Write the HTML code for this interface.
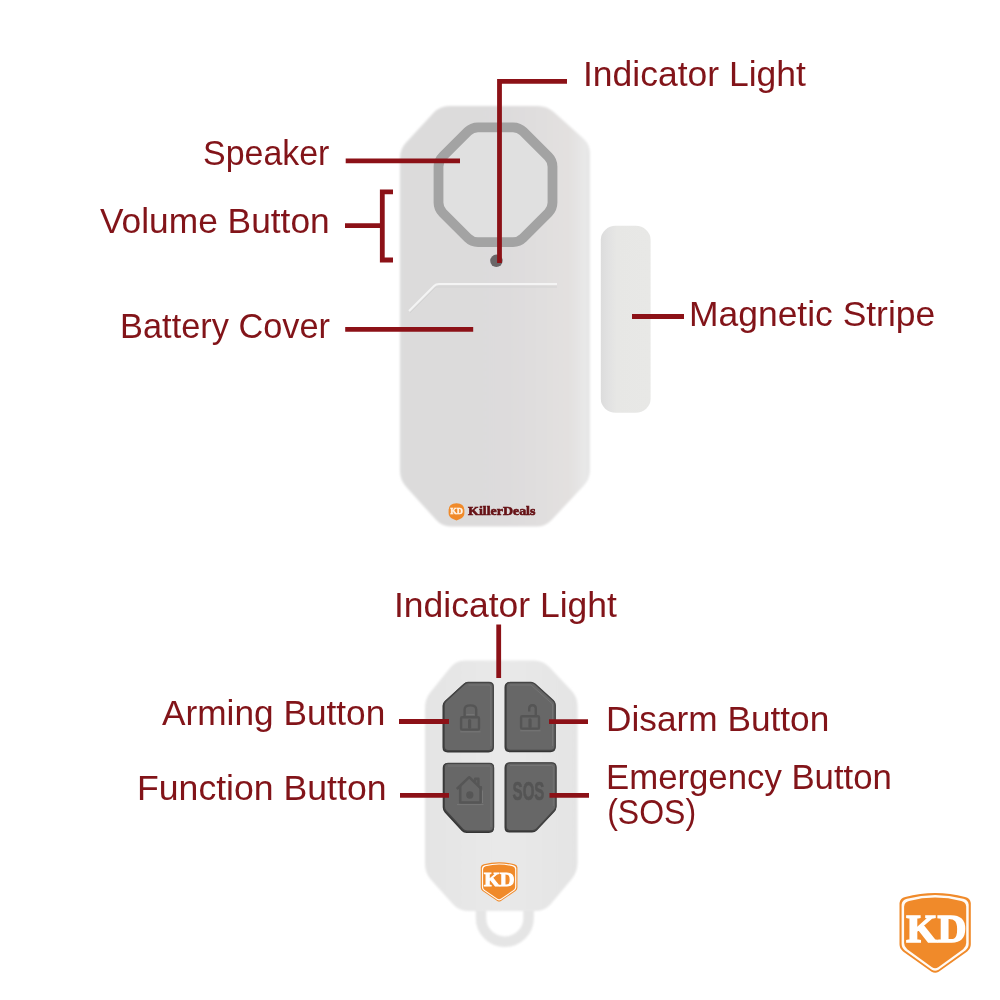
<!DOCTYPE html>
<html><head><meta charset="utf-8"><title>Alarm diagram</title>
<style>
html,body{margin:0;padding:0;background:#ffffff;width:1000px;height:1000px;overflow:hidden}
svg{display:block;will-change:transform}
.lbl{font-family:"Liberation Sans",sans-serif;font-size:35px;fill:#821419}
</style></head><body>
<svg width="1000" height="1000" viewBox="0 0 1000 1000">
<defs>
  <filter id="soft" x="-5%" y="-5%" width="110%" height="110%"><feGaussianBlur stdDeviation="1.1"/></filter>
  <filter id="soft2" x="-10%" y="-10%" width="120%" height="120%"><feGaussianBlur stdDeviation="0.6"/></filter>
  <filter id="soft3" x="-40%" y="-40%" width="180%" height="200%"><feGaussianBlur stdDeviation="1.1"/></filter>
  <linearGradient id="bodyG" x1="0" y1="0" x2="1" y2="0">
    <stop offset="0" stop-color="#dcdcdc"/>
    <stop offset="0.1" stop-color="#dcdbdb"/>
    <stop offset="0.55" stop-color="#dddbdc"/>
    <stop offset="0.9" stop-color="#e3e1e0"/>
    <stop offset="0.97" stop-color="#e8e8e8"/>
    <stop offset="1" stop-color="#e6e6e6"/>
  </linearGradient>
  <linearGradient id="remG" x1="0" y1="0" x2="1" y2="0">
    <stop offset="0" stop-color="#e4e4e4"/>
    <stop offset="0.5" stop-color="#e9e9e9"/>
    <stop offset="1" stop-color="#e4e4e4"/>
  </linearGradient>
  <linearGradient id="magG" x1="0" y1="0" x2="1" y2="0">
    <stop offset="0" stop-color="#dcdcdc"/>
    <stop offset="0.16" stop-color="#e2e2e2"/>
    <stop offset="0.32" stop-color="#e7e7e5"/>
    <stop offset="1" stop-color="#e8e8e6"/>
  </linearGradient>
</defs>
<rect width="1000" height="1000" fill="#ffffff"/>

<!-- ===== Main alarm body ===== -->
<path d="M400.00,158.00 Q400.00,149.00 406.13,142.41 L433.87,112.59 Q440.00,106.00 449.00,106.00 L538.00,106.00 Q547.00,106.00 553.71,112.00 L583.29,138.50 Q590.00,144.50 590.00,153.50 L590.00,470.00 Q590.00,479.00 583.85,485.57 L551.65,519.93 Q545.50,526.50 536.50,526.50 L451.00,526.50 Q442.00,526.50 435.97,519.82 L406.03,486.68 Q400.00,480.00 400.00,471.00 Z" fill="url(#bodyG)" filter="url(#soft)"/>
<!-- speaker octagon ring -->
<path d="M467.76,131.54 Q472.00,127.30 478.00,127.30 L513.00,127.30 Q519.00,127.30 523.24,131.54 L548.26,156.56 Q552.50,160.80 552.50,166.80 L552.50,202.60 Q552.50,208.60 548.26,212.84 L523.24,237.86 Q519.00,242.10 513.00,242.10 L478.00,242.10 Q472.00,242.10 467.76,237.86 L442.74,212.84 Q438.50,208.60 438.50,202.60 L438.50,166.80 Q438.50,160.80 442.74,156.56 Z" fill="#e0e0e0" stroke="#a3a3a3" stroke-width="9.8" stroke-linejoin="round" filter="url(#soft2)"/>
<!-- LED -->
<circle cx="496.4" cy="260.8" r="6.2" fill="#6a6668" filter="url(#soft2)"/>
<!-- battery cover outline -->
<path d="M409,311 L434,286 Q436,284 439,284 L557,284" fill="none" stroke="#f4f4f4" stroke-width="2"/>
<path d="M410,313 L436,287 L557,287" fill="none" stroke="#d3d3d3" stroke-width="1"/>

<!-- KillerDeals logo on body -->
<g>
  <path d="M448.6,510.5 Q448.6,503.2 456.5,503.2 Q464.4,503.2 464.4,510.5 L464.4,513 Q464.4,517 460,519 L456.5,520.6 L453,519 Q448.6,517 448.6,513 Z" fill="#f08a2a"/>
  <text x="450.3" y="514.2" font-family="Liberation Serif" font-weight="bold" font-size="8" fill="#fff4e8" stroke="#fff4e8" stroke-width="0.4" textLength="12.6" lengthAdjust="spacingAndGlyphs">KD</text>
  <text x="468.1" y="514.6" font-family="Liberation Serif" font-weight="bold" font-size="12.5" fill="#661216" stroke="#661216" stroke-width="0.6" textLength="67.3" lengthAdjust="spacingAndGlyphs">KillerDeals</text>
</g>

<!-- magnetic stripe -->
<rect x="600.8" y="225.8" width="49.8" height="187" rx="15" ry="14" fill="url(#magG)" filter="url(#soft2)"/>

<!-- ===== Remote ===== -->
<path d="M481,909 L481,918 A23.8,23.8 0 0 0 528.6,918 L528.6,909" fill="none" stroke="#e5e5e5" stroke-width="10.5" filter="url(#soft3)"/>
<path d="M425.00,708.00 Q425.00,699.00 430.64,691.99 L450.36,667.51 Q456.00,660.50 465.00,660.50 L534.00,660.50 Q543.00,660.50 549.18,667.04 L571.32,690.46 Q577.50,697.00 577.50,706.00 L577.50,863.00 Q577.50,872.00 571.74,878.91 L550.76,904.09 Q545.00,911.00 536.00,911.00 L468.00,911.00 Q459.00,911.00 453.00,904.29 L431.00,879.71 Q425.00,873.00 425.00,864.00 Z" fill="url(#remG)" filter="url(#soft)"/>

<!-- buttons -->
<g fill="#353535" transform="translate(-0.5,0.8)">
  <path d="M468,682.5 L489,682.5 Q493.2,682.5 493.2,686.5 L493.2,746.5 Q493.2,750.6 489,750.6 L448.2,750.6 Q444.1,750.6 444.1,746.5 L444.1,705 Q444.1,702.8 446,701 L464,684.5 Q466,682.5 468,682.5 Z" stroke="#353535" stroke-width="2.2" stroke-linejoin="round"/>
  <path d="M510.2,682.5 L531,682.5 Q533,682.5 535,684 L553.2,700.5 Q555.1,702.2 555.1,705 L555.1,746.2 Q555.1,750.3 551,750.3 L510.2,750.3 Q506.1,750.3 506.1,746.2 L506.1,686.5 Q506.1,682.5 510.2,682.5 Z" stroke="#353535" stroke-width="2.2" stroke-linejoin="round"/>
  <path d="M448.4,763.3 L489.4,763.3 Q493.5,763.3 493.5,767.3 L493.5,827 Q493.5,831.1 489.4,831.1 L467,831.1 Q464.6,831.1 463,829.4 L446,811 Q444.3,809 444.3,806.5 L444.3,767.3 Q444.3,763.3 448.4,763.3 Z" stroke="#353535" stroke-width="2.2" stroke-linejoin="round"/>
  <path d="M510.2,762.9 L551.8,762.9 Q555.9,762.9 555.9,767 L555.9,806 Q555.9,808.5 554,810.5 L536.6,829 Q535,830.7 532.5,830.7 L510.2,830.7 Q506.1,830.7 506.1,826.6 L506.1,767 Q506.1,762.9 510.2,762.9 Z" stroke="#353535" stroke-width="2.2" stroke-linejoin="round"/>
</g>
<g fill="#676767" stroke="#454545" stroke-width="1.3" stroke-linejoin="round">
  <path d="M468,682.5 L489,682.5 Q493.2,682.5 493.2,686.5 L493.2,746.5 Q493.2,750.6 489,750.6 L448.2,750.6 Q444.1,750.6 444.1,746.5 L444.1,705 Q444.1,702.8 446,701 L464,684.5 Q466,682.5 468,682.5 Z"/>
  <path d="M510.2,682.5 L531,682.5 Q533,682.5 535,684 L553.2,700.5 Q555.1,702.2 555.1,705 L555.1,746.2 Q555.1,750.3 551,750.3 L510.2,750.3 Q506.1,750.3 506.1,746.2 L506.1,686.5 Q506.1,682.5 510.2,682.5 Z"/>
  <path d="M448.4,763.3 L489.4,763.3 Q493.5,763.3 493.5,767.3 L493.5,827 Q493.5,831.1 489.4,831.1 L467,831.1 Q464.6,831.1 463,829.4 L446,811 Q444.3,809 444.3,806.5 L444.3,767.3 Q444.3,763.3 448.4,763.3 Z"/>
  <path d="M510.2,762.9 L551.8,762.9 Q555.9,762.9 555.9,767 L555.9,806 Q555.9,808.5 554,810.5 L536.6,829 Q535,830.7 532.5,830.7 L510.2,830.7 Q506.1,830.7 506.1,826.6 L506.1,767 Q506.1,762.9 510.2,762.9 Z"/>
</g>

<!-- button inner highlights -->
<g fill="none" stroke="#747474" stroke-width="1">
  <path d="M468.5,685 L489,685 Q490.8,685 490.8,687 L490.8,746"/>
  <path d="M510,685 L531,685 L552.5,704 L552.5,746"/>
  <path d="M448,766 L489.4,766 Q491,766 491,768 L491,827"/>
  <path d="M510,765.5 L551.8,765.5 Q553.3,765.5 553.3,767.5 L553.3,806"/>
</g>

<!-- lock icon (arming) -->
<g fill="none" stroke="#555555" stroke-width="2.4">
  <rect x="461.1" y="717.3" width="17.9" height="12.3" rx="1.2"/>
  <path d="M464.6,717 L464.6,709.4 Q464.6,705.4 470.4,705.4 Q476.2,705.4 476.2,709.4 L476.2,717"/>
  <path d="M469.6,720.5 L469.6,727.2" stroke-width="3.2" stroke-linecap="round"/>
</g>
<g fill="none" stroke="#7a7a7a" stroke-width="0.9" opacity="0.9">
  <path d="M460.2,731.8 L480.6,731.8"/>
  <path d="M466.3,714.6 L474.5,714.6"/>
</g>
<!-- lock icon (disarm) -->
<g fill="none" stroke="#555555" stroke-width="2.4">
  <rect x="521.1" y="716.3" width="17.9" height="12.3" rx="1.2"/>
  <path d="M529.2,711.5 L529.2,708.6 Q529.2,705.3 532.5,705.3 Q535.8,705.3 535.8,708.6 L535.8,716"/>
  <path d="M530,719.8 L530,726.4" stroke-width="3.2" stroke-linecap="round"/>
</g>
<g fill="none" stroke="#7a7a7a" stroke-width="0.9" opacity="0.9">
  <path d="M520.2,730.8 L540.6,730.8"/>
</g>
<!-- house icon -->
<g fill="none" stroke="#565656" stroke-width="2.5" stroke-linejoin="round">
  <path d="M456.8,789 L469.2,777.2 L481.6,789"/>
  <path d="M460.2,786 L460.2,802.4 L480.6,802.4 L480.6,786"/>
  <path d="M475.2,781.8 L475.2,778.8 L478.4,778.8 L478.4,784.8"/>
  <circle cx="469.8" cy="795" r="2.4" fill="#565656"/>
</g>
<g fill="none" stroke="#7c7c7c" stroke-width="0.9" opacity="0.9">
  <path d="M457,804.6 L483.5,804.6"/>
  <path d="M482.5,790.5 L482.5,803"/>
</g>
<!-- SOS -->
<text x="512.6" y="799.6" font-family="Liberation Sans" font-weight="bold" font-size="26" fill="#545454" stroke="#545454" stroke-width="0.6" textLength="31.8" lengthAdjust="spacingAndGlyphs">SOS</text>

<!-- KD shield on remote -->
<g>
  <path transform="translate(480.80,862.30) scale(0.3660,0.3502)" d="M0,14 Q1,7 8,5.5 Q50,-5.5 92,5.5 Q99,7 100,14 L100,72 Q100,78 95,82 L55,110.5 Q50,113.5 45,110.5 L5,82 Q0,78 0,72 Z" fill="#f08a2a"/>
  <path transform="translate(481.90,863.40) scale(0.3440,0.3307)" d="M0,14 Q1,7 8,5.5 Q50,-5.5 92,5.5 Q99,7 100,14 L100,72 Q100,78 95,82 L55,110.5 Q50,113.5 45,110.5 L5,82 Q0,78 0,72 Z" fill="#fffaf5"/>
  <path transform="translate(483.10,864.60) scale(0.3200,0.3094)" d="M0,14 Q1,7 8,5.5 Q50,-5.5 92,5.5 Q99,7 100,14 L100,72 Q100,78 95,82 L55,110.5 Q50,113.5 45,110.5 L5,82 Q0,78 0,72 Z" fill="#f08a2a"/>
  <text x="483.9" y="885.8" font-family="Liberation Serif" font-weight="bold" font-size="18.9" fill="#ffffff" stroke="#ffffff" stroke-width="0.9" textLength="30.6" lengthAdjust="spacingAndGlyphs">KD</text>
</g>

<!-- KD shield bottom-right -->
<g>
  <path transform="translate(899.50,893.00) scale(0.7130,0.7128)" d="M0,14 Q1,7 8,5.5 Q50,-5.5 92,5.5 Q99,7 100,14 L100,72 Q100,78 95,82 L55,110.5 Q50,113.5 45,110.5 L5,82 Q0,78 0,72 Z" fill="#f08a2a"/>
  <path transform="translate(901.60,895.10) scale(0.6710,0.6755)" d="M0,14 Q1,7 8,5.5 Q50,-5.5 92,5.5 Q99,7 100,14 L100,72 Q100,78 95,82 L55,110.5 Q50,113.5 45,110.5 L5,82 Q0,78 0,72 Z" fill="#fffaf5"/>
  <path transform="translate(904.10,897.60) scale(0.6210,0.6312)" d="M0,14 Q1,7 8,5.5 Q50,-5.5 92,5.5 Q99,7 100,14 L100,72 Q100,78 95,82 L55,110.5 Q50,113.5 45,110.5 L5,82 Q0,78 0,72 Z" fill="#f08a2a"/>
  <text x="906.3" y="942.2" font-family="Liberation Serif" font-weight="bold" font-size="40" fill="#ffffff" stroke="#ffffff" stroke-width="1.6">KD</text>
</g>

<!-- ===== Leader lines ===== -->
<g stroke="#8c1117" stroke-width="4.8" fill="none" stroke-linecap="butt">
  <path d="M499.5,263 L499.5,81.4 L567,81.4"/>
  <path d="M345.7,160.8 L460,160.8"/>
  <path d="M345,225.7 L382.3,225.7"/>
  <path d="M393,191.8 L382.3,191.8 L382.3,260 L393,260"/>
  <path d="M345.2,329.3 L473.2,329.3"/>
  <path d="M632,316.5 L684,316.5"/>
  <path d="M498.7,624.5 L498.7,678"/>
  <path d="M399,721.5 L449,721.5"/>
  <path d="M549,721.6 L588,721.6"/>
  <path d="M400,795.3 L449,795.3"/>
  <path d="M549.5,795.3 L589,795.3"/>
</g>

<!-- ===== Labels ===== -->
<g class="lbl">
  <text x="583" y="86" textLength="222.9" lengthAdjust="spacingAndGlyphs">Indicator Light</text>
  <text x="203.1" y="164.5" textLength="126.3" lengthAdjust="spacingAndGlyphs">Speaker</text>
  <text x="100" y="232.5" textLength="229.7" lengthAdjust="spacingAndGlyphs">Volume Button</text>
  <text x="120.1" y="337.5" textLength="209.9" lengthAdjust="spacingAndGlyphs">Battery Cover</text>
  <text x="689" y="326" textLength="246.2" lengthAdjust="spacingAndGlyphs">Magnetic Stripe</text>
  <text x="394" y="617" textLength="222.9" lengthAdjust="spacingAndGlyphs">Indicator Light</text>
  <text x="162" y="725.4" textLength="223.3" lengthAdjust="spacingAndGlyphs">Arming Button</text>
  <text x="137" y="799.6" textLength="249.5" lengthAdjust="spacingAndGlyphs">Function Button</text>
  <text x="606" y="731" textLength="223.3" lengthAdjust="spacingAndGlyphs">Disarm Button</text>
  <text x="606" y="788.5" textLength="285.9" lengthAdjust="spacingAndGlyphs">Emergency Button</text>
  <text x="607.2" y="824" textLength="88.9" lengthAdjust="spacingAndGlyphs">(SOS)</text>
</g>

</svg>
</body></html>
